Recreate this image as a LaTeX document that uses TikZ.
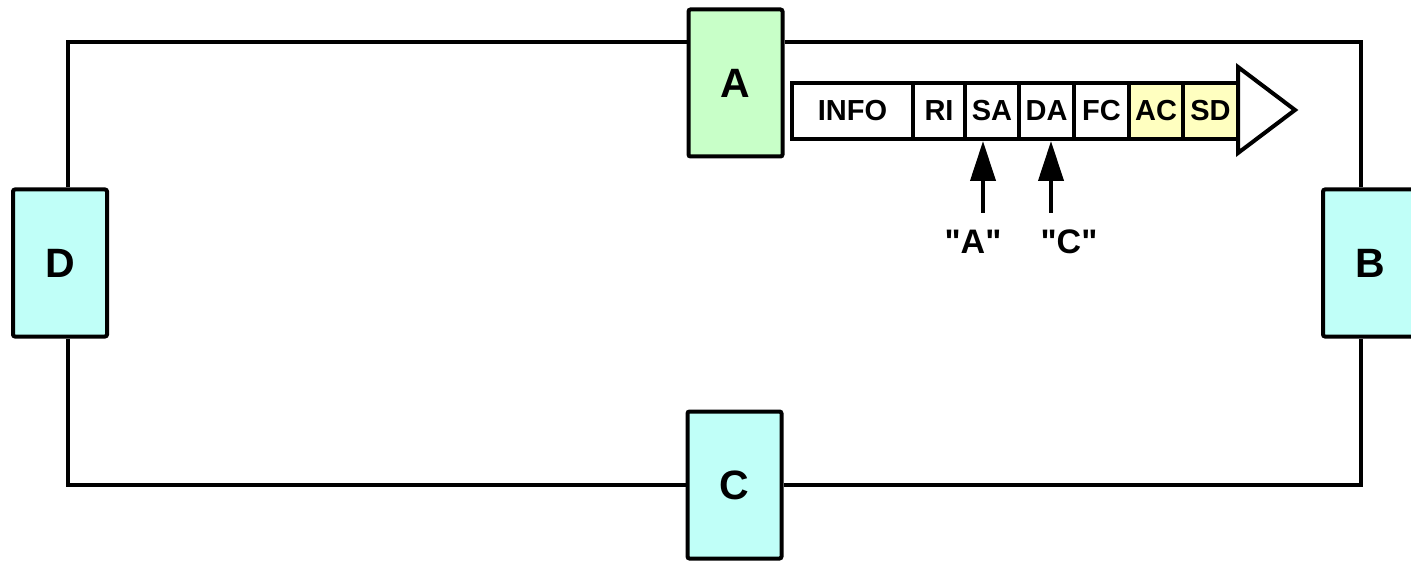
\documentclass[tikz,border=0pt]{standalone}
\usepackage{fontspec}
\setmainfont{Liberation Sans}
\newfontfamily\qfont{Liberation Sans}
\usetikzlibrary{arrows.meta}
\definecolor{boxgreen}{RGB}{200,255,200}
\definecolor{boxcyan}{RGB}{192,255,248}
\definecolor{cellyellow}{RGB}{255,255,192}
\begin{document}
\begin{tikzpicture}[x=1pt,y=-1pt,
  station/.style={draw, line width=4pt, rounded corners=2pt, minimum width=94pt, minimum height=147pt, inner sep=0pt, font=\fontsize{41}{45}\selectfont\bfseries},
  ring/.style={line width=4pt, line join=miter},
  cell/.style={draw, line width=4pt, fill=white, minimum height=56pt, inner sep=0pt, font=\fontsize{29}{32}\selectfont\bfseries},
  pointer/.style={line width=4pt, -{Triangle[length=40pt,width=25pt]}},
  tag/.style={font=\qfont\fontsize{34}{36}\selectfont\bfseries, inner sep=0pt}]
\useasboundingbox (0,0) rectangle (1411,564);
% ring corners
\coordinate (tl) at (68,42);
\coordinate (tr) at (1361,42);
\coordinate (br) at (1361,485);
\coordinate (bl) at (68,485);
% stations
\node[station, fill=boxgreen] (A) at (735.5,83) {A};
\node[station, fill=boxcyan] (D) at (60,263) {D};
\node[station, fill=boxcyan] (B) at (1370,263) {B};
\node[station, fill=boxcyan] (C) at (734.5,485) {C};
% ring
\draw[ring] (D.north -| tl) -- (tl) -- (A.west |- tl);
\draw[ring] (A.east |- tr) -- (tr) -- (B.north -| tr);
\draw[ring] (B.south -| br) -- (br) -- (C.east |- br);
\draw[ring] (C.west |- bl) -- (bl) -- (D.south -| bl);
% frame arrow head
\node[coordinate] (hb) at (1238,67) {};
\node[coordinate] (ht) at (1295,110) {};
\node[coordinate] (hc) at (1238,153) {};
\draw[line width=4pt, fill=white, line join=miter] (hb) -- (ht) -- (hc) -- cycle;
% frame cells
\node[cell, minimum width=121pt] (info) at (852.5,111) {INFO};
\node[cell, minimum width=52pt] (ri) at (939,111) {RI};
\node[cell, minimum width=54pt] (sa) at (992,111) {SA};
\node[cell, minimum width=55pt] (da) at (1046.5,111) {DA};
\node[cell, minimum width=55pt] (fc) at (1101.5,111) {FC};
\node[cell, minimum width=54pt, fill=cellyellow] (ac) at (1156,111) {AC};
\node[cell, minimum width=55pt, fill=cellyellow] (sd) at (1210.5,111) {SD};
% pointers
\coordinate (p1) at (983,213);
\coordinate (p2) at (1051,213);
\draw[pointer] (p1) -- (sa.south -| p1);
\draw[pointer] (p2) -- (da.south -| p2);
\node[tag] (la) at (973,242) {"A"};
\node[tag] (lc) at (1069,242) {"C"};
\end{tikzpicture}
\end{document}
